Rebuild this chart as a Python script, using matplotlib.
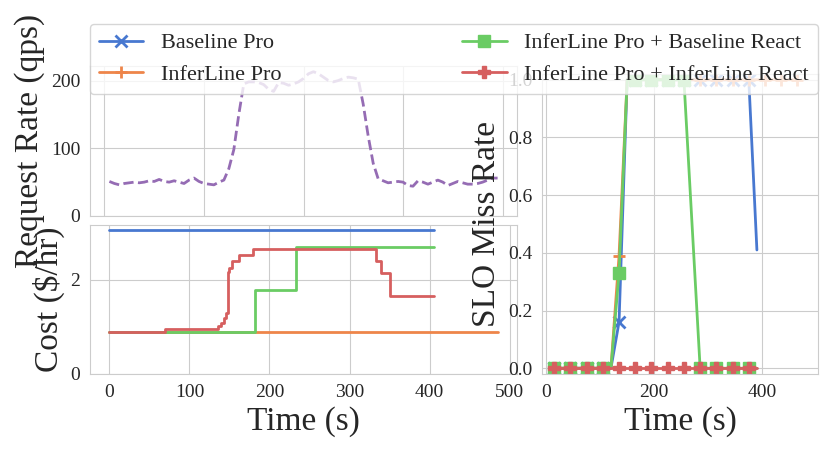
import matplotlib
matplotlib.use("Agg")
import matplotlib.pyplot as plt
import seaborn as sns

sns.set_style("whitegrid")
plt.rcParams['font.family'] = ['Liberation Serif', 'DejaVu Serif']

colors = sns.color_palette("muted")

# request rate (qps), one sample every 5 s
rate_t = list(range(5, 400, 5))
rate = [51, 48, 46, 48, 49, 50, 49, 50, 52, 51, 54, 51, 50, 52, 50, 48,
        53, 56, 51, 48, 47, 46, 50, 53, 70, 98, 150, 195, 198, 198, 197,
        194, 187, 184, 197, 196, 193, 195, 198, 203, 210, 213, 210, 205,
        200, 198, 200, 203, 205, 204, 202, 165, 118, 78, 55, 52, 49, 50,
        51, 50, 45, 44, 52, 50, 47, 50, 53, 50, 45, 48, 51, 49, 47, 47,
        48, 50, 53, 56, 56]
rate = rate[:len(rate_t)]

# cost ($/hr), step functions
cost_t_base = [0, 405]
cost_base = [3.05, 3.05]
cost_t_ilpro = [0, 485]
cost_ilpro = [0.88, 0.88]
cost_t_bre = [0, 182, 233, 405]
cost_bre = [0.88, 1.78, 2.69, 2.69]
cost_t_ilre = [0, 70, 136, 140, 143, 146, 148, 150, 153, 162, 179, 333, 339, 350, 405]
cost_ilre = [0.88, 0.95, 1.01, 1.08, 1.18, 1.29, 2.16, 2.24, 2.40, 2.53, 2.65,
             2.39, 2.14, 1.645, 1.645]

# SLO miss rate, one window every 15 s
slo_t = list(range(15, 391, 15))
slo_t_ilpro = list(range(15, 466, 15))
slo_base = [0] * 8 + [0.16] + [1.0] * 16 + [0.41]
slo_ilpro = [0] * 8 + [0.39] + [1.0] * 22
slo_bre = [0] * 8 + [0.33] + [1.0] * 8 + [0.5] + [0] * 8
slo_ilre = [0] * 26

labels = ["Baseline Pro", "InferLine Pro",
          "InferLine Pro + Baseline React", "InferLine Pro + InferLine React"]
markers = ["x", "+", "s", "P"]

W, H = 830, 453
fig = plt.figure(figsize=(W / 100, H / 100), dpi=100)


def box(l, t, r, b):
    return [l / W, 1 - b / H, (r - l) / W, (b - t) / H]


ax_rate = fig.add_axes(box(90, 66, 517, 216))
ax_cost = fig.add_axes(box(90, 225, 517, 374))
ax_slo = fig.add_axes(box(542, 74, 818, 374))

# request rate
ax_rate.plot(rate_t, rate, color=colors[4], ls="--", lw=2)
ax_rate.set_ylim(bottom=0)
ax_rate.set_xticks([0, 100, 200, 300, 400])
ax_rate.set_xticklabels([])
ax_rate.set_yticks([0, 100, 200])
ax_rate.set_ylabel("Request Rate (qps)", fontsize=24)

# cost
ax_cost.plot(cost_t_base, cost_base, color=colors[0], lw=2, drawstyle="steps-post")
ax_cost.plot(cost_t_ilpro, cost_ilpro, color=colors[1], lw=2, drawstyle="steps-post")
ax_cost.plot(cost_t_bre, cost_bre, color=colors[2], lw=2, drawstyle="steps-post")
ax_cost.plot(cost_t_ilre, cost_ilre, color=colors[3], lw=2, drawstyle="steps-post")
ax_cost.set_ylim(bottom=0)
ax_cost.set_yticks([0, 2])
ax_cost.set_xticks([0, 100, 200, 300, 400, 500])
ax_cost.set_xlabel("Time (s)", fontsize=24)
ax_cost.set_ylabel("Cost ($/hr)", fontsize=24)

# SLO miss rate
series = [(slo_t, slo_base), (slo_t_ilpro, slo_ilpro), (slo_t, slo_bre), (slo_t, slo_ilre)]
handles = []
for i, (t, v) in enumerate(series):
    h, = ax_slo.plot(t, v, color=colors[i], lw=2, marker=markers[i], ms=8,
                     markevery=2, mew=2 if markers[i] in "x+" else 1,
                     label=labels[i])
    handles.append(h)
ax_slo.set_xlim(-7.5, 503)
ax_slo.set_ylim(-0.02, 1.02)
ax_slo.set_xticks([0, 200, 400])
ax_slo.set_yticks([0, 0.2, 0.4, 0.6, 0.8, 1.0])
ax_slo.set_xlabel("Time (s)", fontsize=24)
ax_slo.set_ylabel("SLO Miss Rate", fontsize=24)

for ax in (ax_rate, ax_cost, ax_slo):
    ax.tick_params(labelsize=14)

fig.legend(handles, labels, ncol=2, loc="lower left", mode="expand",
           bbox_to_anchor=(90 / W, 1 - 94 / H, 728 / W, 70 / H),
           fontsize=16, borderaxespad=0, columnspacing=1.5)

fig.savefig("out.png", dpi=100)
